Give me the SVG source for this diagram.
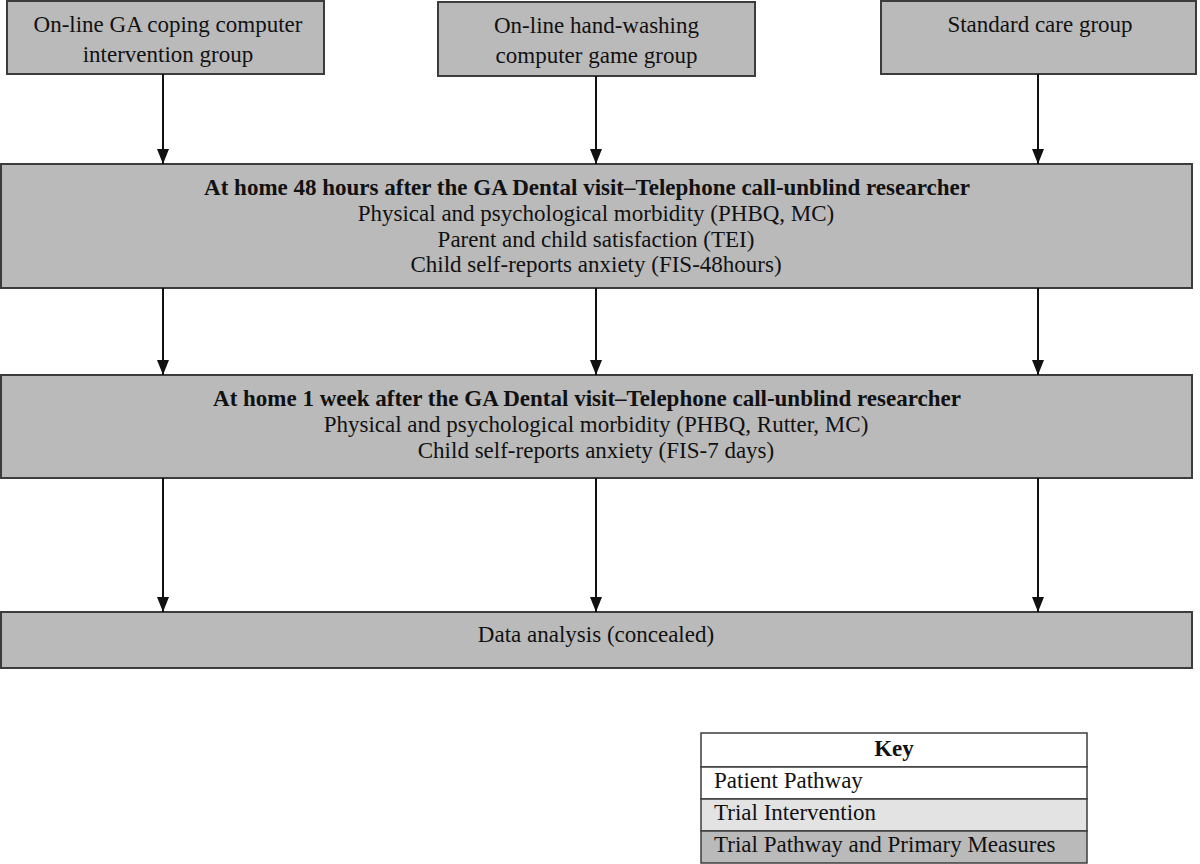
<svg xmlns="http://www.w3.org/2000/svg" width="1200" height="864" viewBox="0 0 1200 864">
<style>
text{font-family:"Liberation Serif","Times New Roman",serif;font-size:23px;fill:#111}
.c{text-anchor:middle}
.b{font-weight:bold}
.box{fill:#bababa;stroke:#3c3c3c;stroke-width:2}
.edge{stroke:#111;stroke-width:2;fill:none}
.k{stroke:#3c3c3c;stroke-width:1.5}
</style>
<defs>
<marker id="ah" markerUnits="userSpaceOnUse" markerWidth="15" markerHeight="12" refX="15" refY="6" orient="auto">
<path d="M0,0 L15,6 L0,12 z" fill="#111"/>
</marker>
</defs>
<rect width="1200" height="864" fill="#fff"/>
<g id="n1">
<rect class="box" x="7" y="1" width="317" height="73"/>
<text class="c" x="168" y="32">On-line GA coping computer</text>
<text class="c" x="168" y="62">intervention group</text>
</g>
<g id="n2">
<rect class="box" x="438" y="2" width="317" height="74"/>
<text class="c" x="596.5" y="33">On-line hand-washing</text>
<text class="c" x="596.5" y="63">computer game group</text>
</g>
<g id="n3">
<rect class="box" x="881" y="1" width="315" height="73"/>
<text class="c" x="1040" y="32">Standard care group</text>
</g>
<g id="n4">
<rect class="box" x="1" y="164" width="1191" height="124"/>
<text class="c b" x="587" y="195">At home 48 hours after the GA Dental visit–Telephone call-unblind researcher</text>
<text class="c" x="596" y="221">Physical and psychological morbidity (PHBQ, MC)</text>
<text class="c" x="596" y="247">Parent and child satisfaction (TEI)</text>
<text class="c" x="596" y="272">Child self-reports anxiety (FIS-48hours)</text>
</g>
<g id="n5">
<rect class="box" x="1" y="375" width="1191" height="103"/>
<text class="c b" x="587" y="406">At home 1 week after the GA Dental visit–Telephone call-unblind researcher</text>
<text class="c" x="596" y="432">Physical and psychological morbidity (PHBQ, Rutter, MC)</text>
<text class="c" x="596" y="458">Child self-reports anxiety (FIS-7 days)</text>
</g>
<g id="n6">
<rect class="box" x="1" y="612" width="1191" height="56"/>
<text class="c" x="596" y="642">Data analysis (concealed)</text>
</g>
<g id="edges">
<line class="edge" x1="163" y1="74" x2="163" y2="164" marker-end="url(#ah)"/>
<line class="edge" x1="596" y1="76" x2="596" y2="164" marker-end="url(#ah)"/>
<line class="edge" x1="1038" y1="74" x2="1038" y2="164" marker-end="url(#ah)"/>
<line class="edge" x1="163" y1="288" x2="163" y2="375" marker-end="url(#ah)"/>
<line class="edge" x1="596" y1="288" x2="596" y2="375" marker-end="url(#ah)"/>
<line class="edge" x1="1038" y1="288" x2="1038" y2="375" marker-end="url(#ah)"/>
<line class="edge" x1="163" y1="478" x2="163" y2="612" marker-end="url(#ah)"/>
<line class="edge" x1="596" y1="478" x2="596" y2="612" marker-end="url(#ah)"/>
<line class="edge" x1="1038" y1="478" x2="1038" y2="612" marker-end="url(#ah)"/>
</g>
<g id="key">
<rect class="k" x="701" y="733" width="386" height="34" fill="#fff"/>
<rect class="k" x="701" y="767" width="386" height="32" fill="#fff"/>
<rect class="k" x="701" y="799" width="386" height="32" fill="#e3e3e3"/>
<rect class="k" x="701" y="831" width="386" height="32" fill="#bababa"/>
<text class="c b" x="894" y="756">Key</text>
<text x="714" y="788">Patient Pathway</text>
<text x="714" y="820">Trial Intervention</text>
<text x="714" y="852">Trial Pathway and Primary Measures</text>
</g>
</svg>
